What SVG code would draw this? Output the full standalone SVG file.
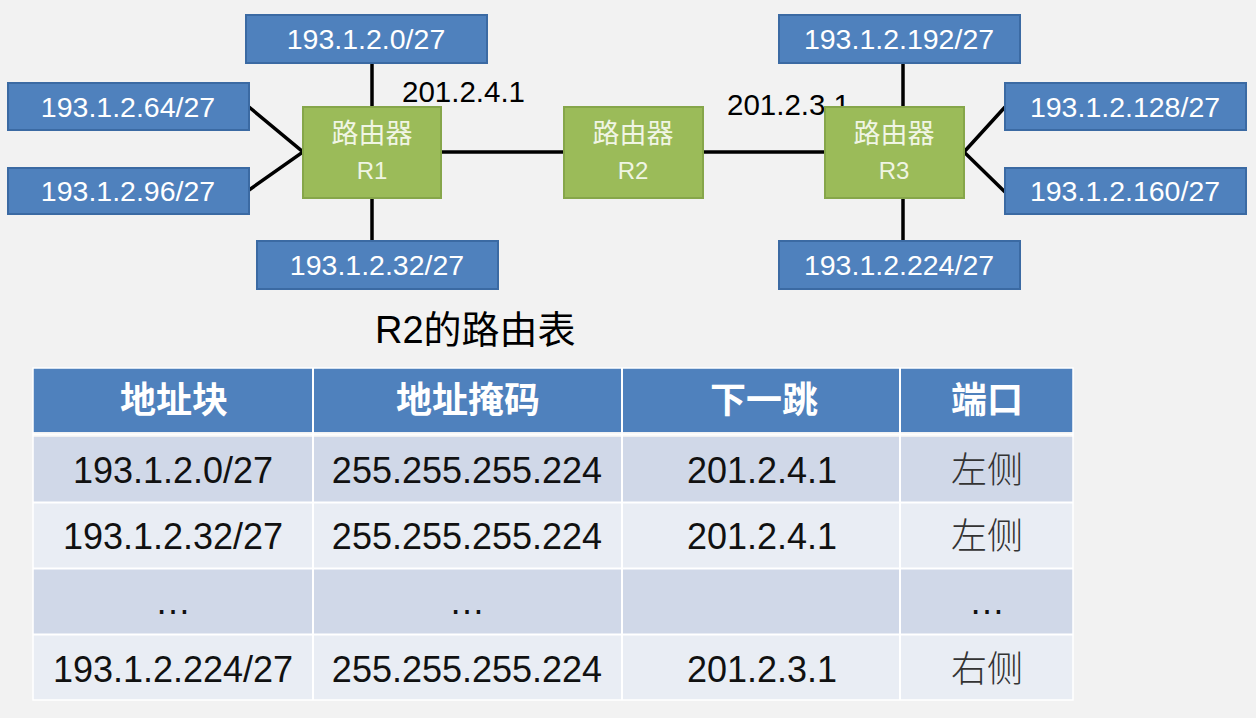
<svg xmlns="http://www.w3.org/2000/svg" width="1256" height="718" viewBox="0 0 1256 718">
  <style>
    .net { fill: #4f81bd; stroke: #3b6aa3; stroke-width: 2; }
    .netText { font-family: "Liberation Sans", Arial, sans-serif; font-size: 28.5px; fill: #ffffff; text-anchor: middle; }
    .router { fill: #9bbb59; stroke: #86a64a; stroke-width: 2; }
    .routerCn { font-family: "Noto Sans CJK SC", sans-serif; font-size: 27px; fill: #f0f5e4; text-anchor: middle; }
    .routerEn { font-family: "Liberation Sans", Arial, sans-serif; font-size: 24px; fill: #f0f5e4; text-anchor: middle; }
    .link { stroke: #000000; stroke-width: 3.5; fill: none; }
    .ip { font-family: "Liberation Sans", Arial, sans-serif; font-size: 29.5px; fill: #000000; }
    .title { font-family: "Liberation Sans", "Noto Sans CJK SC", sans-serif; font-size: 38px; fill: #000000; }
    .head { fill: #4f81bd; }
    .band1 { fill: #d0d8e8; }
    .band2 { fill: #e9edf4; }
    .hText { font-family: "Noto Sans CJK SC", sans-serif; font-size: 36px; font-weight: bold; fill: #ffffff; text-anchor: middle; }
    .cText { font-family: "Liberation Sans", Arial, sans-serif; font-size: 36px; fill: #111111; text-anchor: middle; }
    .cnText { font-family: "Noto Sans CJK SC", sans-serif; font-size: 36px; font-weight: 300; fill: #333333; text-anchor: middle; }
    .grid { stroke: #ffffff; stroke-width: 2; }
  </style>

  <rect width="1256" height="718" fill="#f2f2f2"/>

  <!-- links between routers and networks -->
  <g id="connectors">
    <line class="link" x1="441" y1="152" x2="563" y2="152"/>
    <line class="link" x1="703" y1="152" x2="825" y2="152"/>
    <line class="link" x1="372" y1="63" x2="372" y2="107"/>
    <line class="link" x1="372" y1="198" x2="372" y2="241"/>
    <polyline class="link" points="249,107 303,152 249,190"/>
    <line class="link" x1="903" y1="63" x2="903" y2="107"/>
    <line class="link" x1="903" y1="198" x2="903" y2="241"/>
    <polyline class="link" points="1005,107 964,152 1005,192"/>
  </g>

  <text class="ip" x="402" y="102">201.2.4.1</text>
  <text class="ip" x="727" y="115">201.2.3.1</text>

  <!-- routers -->
  <g id="r1">
    <rect class="router" x="303" y="107" width="138" height="91"/>
    <text class="routerCn" x="372" y="143">路由器</text>
    <text class="routerEn" x="372" y="179">R1</text>
  </g>
  <g id="r2">
    <rect class="router" x="564" y="107" width="139" height="91"/>
    <text class="routerCn" x="633" y="143">路由器</text>
    <text class="routerEn" x="633" y="179">R2</text>
  </g>
  <g id="r3">
    <rect class="router" x="825" y="107" width="139" height="91"/>
    <text class="routerCn" x="894" y="143">路由器</text>
    <text class="routerEn" x="894" y="179">R3</text>
  </g>

  <!-- networks -->
  <g id="net0">
    <rect class="net" x="246" y="15" width="241" height="48"/>
    <text class="netText" x="366" y="49">193.1.2.0/27</text>
  </g>
  <g id="net64">
    <rect class="net" x="8" y="83" width="241" height="47"/>
    <text class="netText" x="128" y="117">193.1.2.64/27</text>
  </g>
  <g id="net96">
    <rect class="net" x="8" y="168" width="241" height="46"/>
    <text class="netText" x="128" y="201">193.1.2.96/27</text>
  </g>
  <g id="net32">
    <rect class="net" x="257" y="241" width="241" height="48"/>
    <text class="netText" x="377" y="275">193.1.2.32/27</text>
  </g>
  <g id="net192">
    <rect class="net" x="779" y="15" width="241" height="48"/>
    <text class="netText" x="899" y="49">193.1.2.192/27</text>
  </g>
  <g id="net128">
    <rect class="net" x="1005" y="83" width="241" height="47"/>
    <text class="netText" x="1125" y="117">193.1.2.128/27</text>
  </g>
  <g id="net160">
    <rect class="net" x="1005" y="168" width="241" height="46"/>
    <text class="netText" x="1125" y="201">193.1.2.160/27</text>
  </g>
  <g id="net224">
    <rect class="net" x="779" y="241" width="241" height="48"/>
    <text class="netText" x="899" y="275">193.1.2.224/27</text>
  </g>

  <!-- routing table of R2 -->
  <text class="title" x="375" y="343">R2的路由表</text>

  <g id="table">
    <rect class="head" x="33" y="368" width="1040" height="64"/>
    <rect class="band1" x="33" y="437" width="1040" height="65"/>
    <rect class="band2" x="33" y="503" width="1040" height="65"/>
    <rect class="band1" x="33" y="569" width="1040" height="65"/>
    <rect class="band2" x="33" y="635" width="1040" height="65"/>
    <line class="grid" x1="33" y1="434.5" x2="1073" y2="434.5" stroke-width="5"/>
    <line class="grid" x1="33" y1="502.5" x2="1073" y2="502.5"/>
    <line class="grid" x1="33" y1="568.5" x2="1073" y2="568.5"/>
    <line class="grid" x1="33" y1="634.5" x2="1073" y2="634.5"/>
    <line class="grid" x1="313" y1="368" x2="313" y2="700"/>
    <line class="grid" x1="622" y1="368" x2="622" y2="700"/>
    <line class="grid" x1="900" y1="368" x2="900" y2="700"/>
    <rect x="33" y="368" width="1040" height="332" fill="none" stroke="#ffffff" stroke-width="1.5"/>

    <text class="hText" x="174" y="413">地址块</text>
    <text class="hText" x="468" y="413">地址掩码</text>
    <text class="hText" x="764" y="413">下一跳</text>
    <text class="hText" x="987" y="413">端口</text>

    <text class="cText" x="173" y="483">193.1.2.0/27</text>
    <text class="cText" x="467" y="483">255.255.255.224</text>
    <text class="cText" x="762" y="483">201.2.4.1</text>
    <text class="cnText" x="987" y="483">左侧</text>

    <text class="cText" x="173" y="549">193.1.2.32/27</text>
    <text class="cText" x="467" y="549">255.255.255.224</text>
    <text class="cText" x="762" y="549">201.2.4.1</text>
    <text class="cnText" x="987" y="549">左侧</text>

    <text class="cText" x="173" y="614" font-size="26">…</text>
    <text class="cText" x="467" y="614" font-size="26">…</text>
    <text class="cText" x="987" y="614" font-size="26">…</text>

    <text class="cText" x="173" y="682">193.1.2.224/27</text>
    <text class="cText" x="467" y="682">255.255.255.224</text>
    <text class="cText" x="762" y="682">201.2.3.1</text>
    <text class="cnText" x="987" y="682">右侧</text>
  </g>
</svg>
